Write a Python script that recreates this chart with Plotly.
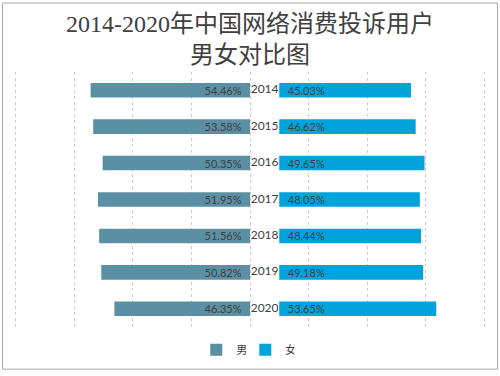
import plotly.graph_objects as go

years = ["2014", "2015", "2016", "2017", "2018", "2019", "2020"]
male = [54.46, 53.58, 50.35, 51.95, 51.56, 50.82, 46.35]
female = [45.03, 46.62, 49.65, 48.05, 48.44, 49.18, 53.65]
gap = 10  # space between the two halves for year labels (axis units)

MALE_C = "#5B8FA3"
FEMALE_C = "#00A3DB"
TXT = "#404040"

L, R, T, B = 13, 13, 72, 47
PW, PH = 500 - L - R, 376 - T - B

fig = go.Figure()
fig.add_trace(go.Bar(
    name="男", y=years, x=[-v for v in male], orientation="h",
    marker=dict(color=MALE_C, line=dict(width=0)),
    text=[f"{v:.2f}%\u2002" for v in male], textposition="inside",
    insidetextanchor="start", constraintext="none",
    textfont=dict(color=TXT, size=11, family="Lato"),
    hoverinfo="skip",
))
fig.add_trace(go.Bar(
    name="女", y=years, x=female, base=gap, orientation="h",
    marker=dict(color=FEMALE_C, line=dict(width=0)),
    text=[f"\u2002{v:.2f}%" for v in female], textposition="inside",
    insidetextanchor="start", constraintext="none",
    textfont=dict(color=TXT, size=11, family="Lato"),
    hoverinfo="skip",
))
fig.add_trace(go.Scatter(
    y=years, x=[gap / 2] * len(years), mode="text", text=years,
    textfont=dict(color=TXT, size=12, family="Lato"), textposition="middle center",
    showlegend=False, hoverinfo="skip",
))

fig.update_layout(
    width=500, height=376,
    paper_bgcolor="white", plot_bgcolor="white",
    margin=dict(l=L, r=R, t=T, b=B),
    barmode="overlay", bargap=0.6,
    title=dict(
        text="2014-2020年中国网络消费投诉用户<br>男女对比图",
        x=0.5, xanchor="center", y=0.915, yanchor="top", yref="container",
        font=dict(family="Liberation Serif, Noto Sans CJK SC", size=24, color="#404040"),
    ),
    xaxis=dict(range=[-81, 81], tickvals=[-80, -60, -40, -20, 0, 20, 40, 60, 80],
               showticklabels=False, showgrid=True, gridcolor="#D6C8C8", griddash="dot",
               gridwidth=1, zeroline=False, showline=False, fixedrange=True),
    yaxis=dict(autorange="reversed", showticklabels=False, showgrid=False,
               zeroline=False, showline=False, fixedrange=True),
    legend=dict(orientation="h", x=0.49, xanchor="center", y=-23/PH, yanchor="middle",
                font=dict(size=11, color=TXT, family="Noto Sans CJK SC"),
                itemwidth=30, entrywidth=4, entrywidthmode="pixels", traceorder="normal"),
    shapes=[dict(type="rect", xref="paper", yref="paper",
                 x0=(2.5 - L) / PW, x1=(497.5 - L) / PW,
                 y0=-(371.5 - (T + PH)) / PH, y1=1 + (T - 2.5) / PH,
                 line=dict(color="#A6A6A6", width=1), fillcolor="rgba(0,0,0,0)")],
    showlegend=True,
)
fig.write_html("out.html", config={"displayModeBar": False},
               post_script="document.body.style.margin='0';")
